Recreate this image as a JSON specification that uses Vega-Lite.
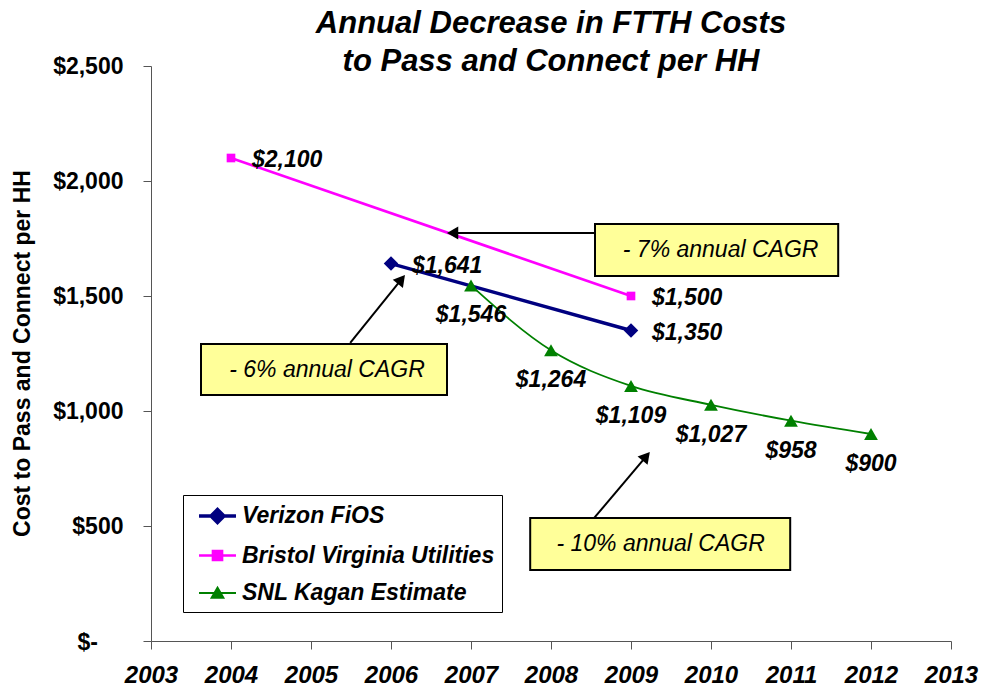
{
  "$schema": "https://vega.github.io/schema/vega-lite/v6.json",
  "width": 800,
  "height": 575,
  "autosize": {"type": "none"},
  "padding": {"left": 151, "top": 66, "right": 30, "bottom": 50},
  "background": "white",
  "config": {
    "view": {"stroke": null},
    "font": "Liberation Sans",
    "axis": {"grid": false}
  },
  "title": {
    "text": ["Annual Decrease in FTTH Costs", "to Pass and Connect per HH"],
    "font": "Liberation Sans",
    "fontSize": 31,
    "fontStyle": "italic",
    "fontWeight": "bold",
    "color": "black",
    "lineHeight": 38,
    "anchor": "middle",
    "offset": -23
  },
  "datasets": {
    "costs": [
      {"series": "Verizon FiOS", "year": 2006, "value": 1641},
      {"series": "Verizon FiOS", "year": 2009, "value": 1350},
      {"series": "Bristol Virginia Utilities", "year": 2004, "value": 2100},
      {"series": "Bristol Virginia Utilities", "year": 2009, "value": 1500},
      {"series": "SNL Kagan Estimate", "year": 2007, "value": 1546},
      {"series": "SNL Kagan Estimate", "year": 2008, "value": 1264},
      {"series": "SNL Kagan Estimate", "year": 2009, "value": 1109},
      {"series": "SNL Kagan Estimate", "year": 2010, "value": 1027},
      {"series": "SNL Kagan Estimate", "year": 2011, "value": 958},
      {"series": "SNL Kagan Estimate", "year": 2012, "value": 900}
    ],
    "zeroLabel": [
      {"year": 2003, "value": 0, "label": "$-"}
    ],
    "boxes": [
      {"text": "- 7% annual CAGR", "x1": 2008.55, "x2": 2011.59, "y1": 1587, "y2": 1813, "tx": 2010.12, "ty": 1700},
      {"text": "- 6% annual CAGR", "x1": 2003.625, "x2": 2006.7, "y1": 1070, "y2": 1291, "tx": 2005.2, "ty": 1180},
      {"text": "- 10% annual CAGR", "x1": 2007.74, "x2": 2010.99, "y1": 309, "y2": 535, "tx": 2009.37, "ty": 422}
    ],
    "arrows": [
      {"x1": 2008.55, "y1": 1774, "x2": 2006.77, "y2": 1774, "angle": 270},
      {"x1": 2005.49, "y1": 1296, "x2": 2006.13, "y2": 1572, "angle": 39},
      {"x1": 2008.54, "y1": 535, "x2": 2009.19, "y2": 803, "angle": 40}
    ]
  },
  "layer": [
    {
      "data": {"name": "costs"},
      "mark": {"type": "line", "interpolate": "monotone"},
      "encoding": {
        "x": {
          "field": "year", "type": "quantitative",
          "scale": {"domain": [2003, 2013], "nice": false, "zero": false},
          "axis": {
            "title": null,
            "values": [2003, 2004, 2005, 2006, 2007, 2008, 2009, 2010, 2011, 2012, 2013],
            "format": "d",
            "tickSize": 8,
            "tickColor": "#555555",
            "domainColor": "#555555",
            "labelFont": "Liberation Sans",
            "labelFontSize": 24,
            "labelFontStyle": "italic",
            "labelFontWeight": "bold",
            "labelColor": "black",
            "labelPadding": 14,
            "labelFlush": false,
            "labelOverlap": false
          }
        },
        "y": {
          "field": "value", "type": "quantitative",
          "scale": {"domain": [0, 2500], "nice": false},
          "axis": {
            "title": "Cost to Pass and Connect per HH",
            "titleFont": "Liberation Sans",
            "titleFontSize": 23,
            "titleFontWeight": "bold",
            "titleColor": "black",
            "titleX": -129,
            "titleY": 287,
            "titleAngle": -90,
            "titleAlign": "center",
            "titleBaseline": "middle",
            "values": [0, 500, 1000, 1500, 2000, 2500],
            "labelExpr": "datum.value == 0 ? '' : '$' + format(datum.value, ',')",
            "tickSize": 8,
            "tickColor": "#555555",
            "domainColor": "#555555",
            "labelFont": "Liberation Sans",
            "labelFontSize": 23,
            "labelFontWeight": "bold",
            "labelColor": "black",
            "labelPadding": 20,
            "labelOverlap": false
          }
        },
        "color": {
          "field": "series", "type": "nominal",
          "scale": {"domain": ["Verizon FiOS", "Bristol Virginia Utilities", "SNL Kagan Estimate"], "range": ["#000080", "#FF00FF", "#008000"]},
          "legend": {
            "title": null,
            "orient": "none",
            "legendX": 32,
            "legendY": 429,
            "padding": 7,
            "strokeColor": "black",
            "fillColor": "white",
            "symbolSize": 576,
            "symbolOffset": 13.5,
            "labelOffset": 10.5,
            "rowPadding": 12,
            "labelFont": "Liberation Sans",
            "labelFontSize": 23,
            "labelFontStyle": "italic",
            "labelFontWeight": "bold",
            "labelColor": "black",
            "labelLimit": 400,
            "encode": {
              "symbols": {
                "update": {
                  "shape": {"signal": "datum.value === 'Verizon FiOS' ? 'M-1.54,0L1.54,0M-0.54,0L0,-0.54L0.54,0L0,0.54Z' : datum.value === 'Bristol Virginia Utilities' ? 'M-1.54,0L1.54,0M-0.375,-0.375L0.375,-0.375L0.375,0.375L-0.375,0.375Z' : 'M-1.54,0L1.54,0M0,-0.46L0.5,0.4L-0.5,0.4Z'"},
                  "fill": {"scale": "color", "field": "value"},
                  "stroke": {"scale": "color", "field": "value"},
                  "strokeWidth": {"signal": "datum.value === 'Verizon FiOS' ? 3.5 : 1.8"},
                  "opacity": {"value": 1}
                }
              }
            }
          }
        },
        "strokeWidth": {
          "field": "series", "type": "nominal",
          "scale": {"domain": ["Verizon FiOS", "Bristol Virginia Utilities", "SNL Kagan Estimate"], "range": [3.5, 1.8, 1.8]},
          "legend": null
        }
      }
    },
    {
      "data": {"name": "zeroLabel"},
      "mark": {"type": "text", "align": "right", "baseline": "middle", "dx": -53, "dy": 2, "font": "Liberation Sans", "fontSize": 23, "fontWeight": "bold", "color": "black"},
      "encoding": {
        "x": {"field": "year", "type": "quantitative"},
        "y": {"field": "value", "type": "quantitative"},
        "text": {"field": "label", "type": "nominal"}
      }
    },
    {
      "data": {"name": "costs"},
      "transform": [{"filter": "datum.series === 'Verizon FiOS'"}],
      "mark": {"type": "point", "shape": "diamond", "filled": true, "opacity": 1, "color": "#000080", "size": 210},
      "encoding": {
        "x": {"field": "year", "type": "quantitative"},
        "y": {"field": "value", "type": "quantitative"}
      }
    },
    {
      "data": {"name": "costs"},
      "transform": [{"filter": "datum.series === 'Bristol Virginia Utilities'"}],
      "mark": {"type": "point", "shape": "square", "filled": true, "opacity": 1, "color": "#FF00FF", "size": 75},
      "encoding": {
        "x": {"field": "year", "type": "quantitative"},
        "y": {"field": "value", "type": "quantitative"}
      }
    },
    {
      "data": {"name": "costs"},
      "transform": [{"filter": "datum.series === 'SNL Kagan Estimate'"}],
      "mark": {"type": "point", "shape": "triangle-up", "filled": true, "opacity": 1, "color": "#008000", "size": 190},
      "encoding": {
        "x": {"field": "year", "type": "quantitative"},
        "y": {"field": "value", "type": "quantitative"}
      }
    },
    {
      "data": {"name": "costs"},
      "transform": [{"filter": "datum.series !== 'SNL Kagan Estimate'"}],
      "mark": {"type": "text", "align": "left", "baseline": "middle", "dx": 21, "dy": 2, "font": "Liberation Sans", "fontSize": 23, "fontStyle": "italic", "fontWeight": "bold", "color": "black"},
      "encoding": {
        "x": {"field": "year", "type": "quantitative"},
        "y": {"field": "value", "type": "quantitative"},
        "text": {"field": "value", "type": "quantitative", "format": "$,.0f"}
      }
    },
    {
      "data": {"name": "costs"},
      "transform": [{"filter": "datum.series === 'SNL Kagan Estimate'"}],
      "mark": {"type": "text", "align": "center", "baseline": "middle", "dy": 30, "font": "Liberation Sans", "fontSize": 23, "fontStyle": "italic", "fontWeight": "bold", "color": "black"},
      "encoding": {
        "x": {"field": "year", "type": "quantitative"},
        "y": {"field": "value", "type": "quantitative"},
        "text": {"field": "value", "type": "quantitative", "format": "$,.0f"}
      }
    },
    {
      "data": {"name": "arrows"},
      "mark": {"type": "rule", "color": "black", "strokeWidth": 2},
      "encoding": {
        "x": {"field": "x1", "type": "quantitative"},
        "y": {"field": "y1", "type": "quantitative"},
        "x2": {"field": "x2"},
        "y2": {"field": "y2"}
      }
    },
    {
      "data": {"name": "arrows"},
      "mark": {"type": "point", "shape": "triangle-up", "filled": true, "color": "black", "size": 170, "opacity": 1},
      "encoding": {
        "x": {"field": "x2", "type": "quantitative"},
        "y": {"field": "y2", "type": "quantitative"},
        "angle": {"field": "angle", "type": "quantitative", "scale": null}
      }
    },
    {
      "data": {"name": "boxes"},
      "mark": {"type": "rect", "fill": "#FFFF99", "stroke": "black", "strokeWidth": 2},
      "encoding": {
        "x": {"field": "x1", "type": "quantitative"},
        "x2": {"field": "x2"},
        "y": {"field": "y1", "type": "quantitative"},
        "y2": {"field": "y2"}
      }
    },
    {
      "data": {"name": "boxes"},
      "mark": {"type": "text", "align": "center", "baseline": "middle", "font": "Liberation Sans", "fontSize": 23, "fontStyle": "italic", "color": "black"},
      "encoding": {
        "x": {"field": "tx", "type": "quantitative"},
        "y": {"field": "ty", "type": "quantitative"},
        "text": {"field": "text", "type": "nominal"}
      }
    }
  ]
}
